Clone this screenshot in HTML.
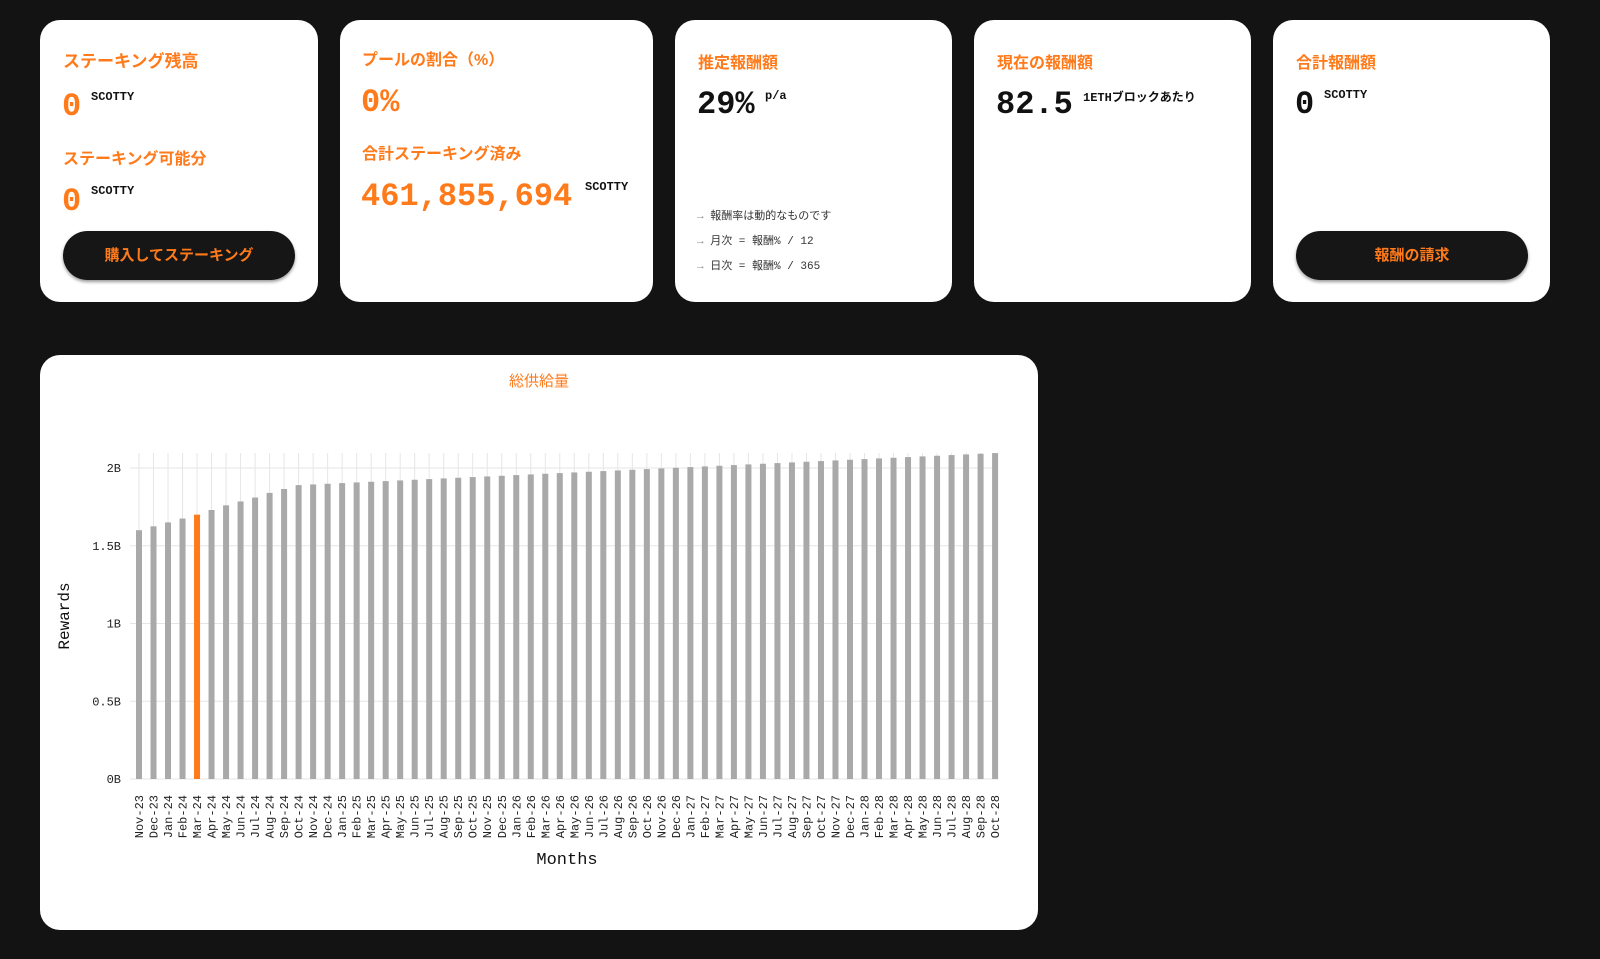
<!DOCTYPE html>
<html><head><meta charset="utf-8">
<style>
body{margin:0;width:1600px;height:959px;background:#131313;font-family:"Liberation Mono","Noto Sans CJK JP",monospace;overflow:hidden;position:relative}
.card{position:absolute;background:#fff;border-radius:20px}
.or{color:#ff7a1a}
.t{position:absolute;font-family:"Liberation Sans","Noto Sans CJK JP",sans-serif;font-weight:bold;font-size:16px;color:#ff7a1a;white-space:nowrap}
.big{position:absolute;font-family:"Liberation Mono","Noto Sans CJK JP",monospace;font-weight:bold;white-space:nowrap}
.sup{position:absolute;font-family:"Liberation Mono","Noto Sans CJK JP",monospace;font-weight:bold;font-size:12px;color:#111;white-space:nowrap}
.btn{position:absolute;background:#161616;border-radius:26px;color:#ff7a1a;font-family:"Liberation Sans","Noto Sans CJK JP",sans-serif;font-weight:bold;font-size:15px;text-align:center;line-height:50px;box-shadow:0 2px 3px rgba(0,0,0,.4)}
.note{position:absolute;font-size:11px;color:#333;font-family:"Liberation Mono","Noto Sans CJK JP",monospace;white-space:nowrap}
</style></head><body>
<div class="card" style="left:40px;top:20px;width:278px;height:282px"></div>
<div class="card" style="left:340px;top:20px;width:313px;height:282px"></div>
<div class="card" style="left:675px;top:20px;width:277px;height:282px"></div>
<div class="card" style="left:974px;top:20px;width:277px;height:282px"></div>
<div class="card" style="left:1273px;top:20px;width:277px;height:282px"></div>

<div class="t" style="left:63px;top:47px;font-size:17px">ステーキング残高</div>
<div class="big or" style="left:62px;top:88px;font-size:32px">0</div>
<div class="sup" style="left:91px;top:90px">SCOTTY</div>
<div class="t" style="left:63px;top:145px">ステーキング可能分</div>
<div class="big or" style="left:62px;top:183px;font-size:32px">0</div>
<div class="sup" style="left:91px;top:184px">SCOTTY</div>
<div class="btn" style="left:63px;top:231px;width:232px;height:49px">購入してステーキング</div>

<div class="t" style="left:362px;top:46px">プールの割合（%）</div>
<div class="big or" style="left:361px;top:84px;font-size:32px">0%</div>
<div class="t" style="left:362px;top:140px">合計ステーキング済み</div>
<div class="big or" style="left:361px;top:178px;font-size:32px">461,855,694</div>
<div class="sup" style="left:585px;top:180px">SCOTTY</div>

<div class="t" style="left:698px;top:49px">推定報酬額</div>
<div class="big" style="left:697px;top:86px;font-size:32px;color:#111">29%</div>
<div class="sup" style="left:765px;top:89px">p/a</div>
<div class="note" style="left:697px;top:207px"><span style="color:#888">→</span> 報酬率は動的なものです</div>
<div class="note" style="left:697px;top:232px"><span style="color:#888">→</span> 月次 = 報酬% / 12</div>
<div class="note" style="left:697px;top:257px"><span style="color:#888">→</span> 日次 = 報酬% / 365</div>

<div class="t" style="left:997px;top:49px">現在の報酬額</div>
<div class="big" style="left:996px;top:86px;font-size:32px;color:#111">82.5</div>
<div class="sup" style="left:1083px;top:88px">1ETHブロックあたり</div>

<div class="t" style="left:1296px;top:49px">合計報酬額</div>
<div class="big" style="left:1295px;top:86px;font-size:32px;color:#111">0</div>
<div class="sup" style="left:1324px;top:88px">SCOTTY</div>
<div class="btn" style="left:1296px;top:231px;width:232px;height:49px">報酬の請求</div>

<div class="card" style="left:40px;top:355px;width:998px;height:575px"></div>
<svg id="ch" width="1600" height="959" style="position:absolute;left:0;top:0" font-family="Liberation Mono, monospace"></svg>
<script>
var s='';
var x0=139,dx=14.51,y0=779,k=155.5;
var m=['Jan','Feb','Mar','Apr','May','Jun','Jul','Aug','Sep','Oct','Nov','Dec'];
var v=[1.6,1.625,1.65,1.675,1.70,1.73,1.76,1.785,1.81,1.84,1.865,1.89];
for(var i=12;i<60;i++){var t=(i-11)/48;v.push(1.89+0.206*t);}
for(var g=0;g<=4;g++){var y=y0-g*0.5*k;s+='<line x1="130" x2="998" y1="'+y+'" y2="'+y+'" stroke="#e6e6e6" stroke-width="1"/>';
 var lb=['0B','0.5B','1B','1.5B','2B'][g];s+='<text x="121" y="'+(y+4)+'" font-size="12" text-anchor="end" fill="#222">'+lb+'</text>';}
for(var i=0;i<60;i++){var x=x0+dx*i;
 s+='<line x1="'+x+'" x2="'+x+'" y1="453" y2="'+y0+'" stroke="#e6e6e6"/>';}
for(var i=0;i<60;i++){var x=x0+dx*i;var h=v[i]*k;
 s+='<rect x="'+(x-3)+'" y="'+(y0-h)+'" width="6" height="'+h+'" fill="'+(i==4?'#ff7a1a':'#a9a9a9')+'"/>';
 var mi=(10+i)%12,yr=23+Math.floor((10+i)/12);
 s+='<text transform="translate('+(x+4)+',795) rotate(-90)" font-size="12" text-anchor="end" fill="#222">'+m[mi]+'-'+yr+'</text>';}
s+='<text x="567" y="864" font-size="17" text-anchor="middle" fill="#111">Months</text>';
s+='<text transform="translate(69,616) rotate(-90)" font-size="16" text-anchor="middle" fill="#111">Rewards</text>';
s+='<text x="539" y="386" font-size="15" text-anchor="middle" fill="#ff7a1a" font-family="Liberation Sans, Noto Sans CJK JP, sans-serif">総供給量</text>';
document.getElementById('ch').innerHTML=s;
</script>
</body></html>
